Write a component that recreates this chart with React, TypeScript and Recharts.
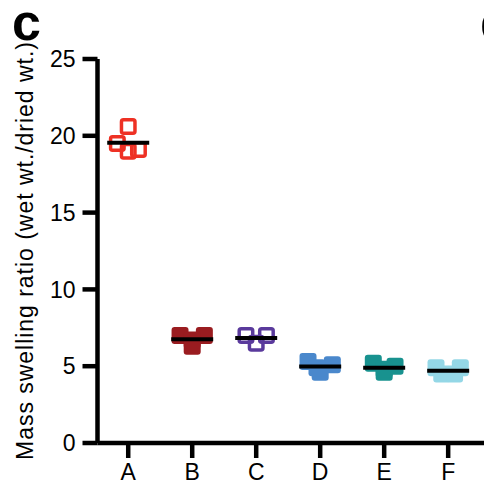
import React from 'react';
import { ScatterChart, Scatter, XAxis, YAxis } from 'recharts';

const categories = ['A', 'B', 'C', 'D', 'E', 'F'];
const colors = ['#EE3124', '#9A1C20', '#5A3A9C', '#4A88CC', '#18928F', '#94D7E6'];
const hollow = [true, false, true, false, false, false];

// values, one list per group
const valuesA = [20.6, 19.5, 19.0, 19.1];
const valuesB = [7.0, 6.3, 7.0, 6.7];
const valuesC = [7.0, 6.5, 7.0];
const valuesD = [5.3, 4.6, 5.1, 4.9];
const valuesE = [5.2, 4.6, 5.0, 4.8];
const valuesF = [4.9, 4.5, 4.9, 4.5];
const groups = [valuesA, valuesB, valuesC, valuesD, valuesE, valuesF];

// horizontal scatter of the points inside each column (category units)
const jitter = [
  [0, -0.17, 0, 0.16],
  [-0.19, 0, 0.19, 0],
  [-0.16, 0, 0.16],
  [-0.19, 0, 0.19, -0.05],
  [-0.17, 0, 0.17, 0],
  [-0.19, -0.1, 0.19, 0.1],
];

const yTicks = [0, 5, 10, 15, 20, 25];
const font = '"Liberation Sans", Arial, sans-serif';

const seriesData = groups.map((vals, g) =>
  vals.map((v, i) => ({ x: g + 1 + jitter[g][i], y: v }))
);
const meanData = groups.map((vals, g) => ({
  x: g + 1,
  y: vals.reduce((s, v) => s + v, 0) / vals.length,
}));

const makeSquare = (color: string, open: boolean) => (props: any) => {
  const { cx, cy } = props;
  if (open) {
    const s = 17;
    const w = 3.5;
    return (
      <rect x={cx - s / 2 + w / 2} y={cy - s / 2 + w / 2} width={s - w} height={s - w} rx={2}
        fill="none" stroke={color} strokeWidth={w} />
    );
  }
  const s = 17;
  return <rect x={cx - s / 2} y={cy - s / 2} width={s} height={s} rx={3} fill={color} />;
};

const MeanLine = (props: any) => {
  const { cx, cy } = props;
  return <line x1={cx - 21} x2={cx + 21} y1={cy} y2={cy} stroke="#000" strokeWidth={4} />;
};

const renderYLabel = () => (
  <text x={33} y={251} transform="rotate(-90 33 251)" textAnchor="middle"
    fontSize={23} fontFamily={font} fill="#000" textLength={418} lengthAdjust="spacing">
    Mass swelling ratio (wet wt./dried wt.)
  </text>
);

export default function App() {
  return (
    <div style={{ position: 'absolute', left: 0, top: 0, width: 484, height: 484, background: '#fff' }}>
      <ScatterChart width={484} height={484} margin={{ top: 59, right: 0, bottom: 0, left: 0 }}>
        <XAxis
          type="number"
          dataKey="x"
          domain={[0.52, 6.56]}
          ticks={[1, 2, 3, 4, 5, 6]}
          interval={0}
          tickFormatter={(v: number) => categories[v - 1]}
          height={41}
          tickSize={15}
          tickMargin={6}
          axisLine={{ stroke: '#000', strokeWidth: 4.5 }}
          tickLine={{ stroke: '#000', strokeWidth: 4.5 }}
          tick={{ fill: '#000', fontSize: 23, fontFamily: font }}
          allowDataOverflow
        />
        <YAxis
          type="number"
          dataKey="y"
          domain={[0, 25]}
          ticks={yTicks}
          interval={0}
          width={97.5}
          tickSize={15}
          tickMargin={7}
          axisLine={{ stroke: '#000', strokeWidth: 4.5 }}
          tickLine={{ stroke: '#000', strokeWidth: 4.5 }}
          tick={{ fill: '#000', fontSize: 23, fontFamily: font }}
          label={renderYLabel}
        />
        {seriesData.map((d, g) => (
          <Scatter key={categories[g]} data={d} isAnimationActive={false}
            shape={makeSquare(colors[g], hollow[g])} />
        ))}
        <Scatter data={meanData} isAnimationActive={false} shape={MeanLine} />
      </ScatterChart>
      <svg width={484} height={484} style={{ position: 'absolute', left: 0, top: 0, pointerEvents: 'none' }}>
        <text x={12} y={40} fontSize={52} fontWeight="bold" fontFamily={font} fill="#000">c</text>
        <text x={480} y={40} fontSize={52} fontWeight="bold" fontFamily={font} fill="#000">d</text>
      </svg>
    </div>
  );
}
